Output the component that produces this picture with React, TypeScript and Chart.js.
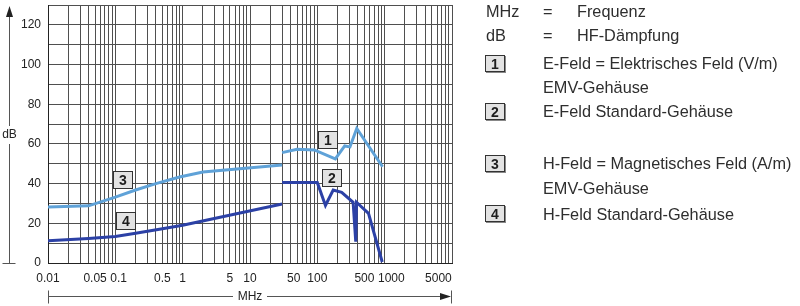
import React, { useEffect, useRef } from 'react';
import { Chart, registerables } from 'chart.js';

Chart.register(...registerables);

// ---- data ----
// Curve 1: E-Feld, EMV-Gehäuse
const c1Freq = [30, 50, 90, 185, 255, 305, 385, 930];
const c1Db = [55.6, 57.3, 57, 52.5, 59, 58.5, 67.8, 48.5];
// Curve 2: E-Feld, Standard-Gehäuse
const c2Freq = [30, 100, 132, 172, 230, 340, 372, 382, 575, 920];
const c2Db = [40.5, 40.5, 29, 36.8, 35.6, 30.6, 10.7, 30.6, 25, 0.5];
// Curve 3: H-Feld, EMV-Gehäuse
const c3Freq = [0.01, 0.04, 0.1, 0.2, 0.4, 0.9, 2, 30];
const c3Db = [28.2, 28.8, 33.2, 36.8, 40, 43.3, 45.8, 49.4];
// Curve 4: H-Feld, Standard-Gehäuse
const c4Freq = [0.01, 0.04, 0.1, 0.2, 0.5, 1, 30];
const c4Db = [11.2, 12.4, 13.3, 15, 17.3, 19, 29.7];

const curveNames = ['1', '2', '3', '4'];

const xTickValues = [0.01, 0.05, 0.1, 0.5, 1, 5, 10, 50, 100, 500, 1000, 5000];
const xTickLabels = ['0.01', '0.05', '0.1', '0.5', '1', '5', '10', '50', '100', '500', '1000', '5000'];
const yTickValues = [0, 20, 40, 60, 80, 100, 120];

const xMin = 0.01;
const xMax = 10000;
const yMin = 0;
const yMax = 130;

// ---- presentation ----
const LIGHT = '#5fa2d8';
const DARK = '#2c41a6';
const FONT = "'Liberation Sans', Arial, Helvetica, sans-serif";
// where the number badges sit, in data units (frequency, dB)
const badgeFreq = [143, 162, 0.126, 0.143];
const badgeDb = [62.3, 43.1, 42.1, 21.3];
// small horizontal nudges (in spaces) the original print uses to keep labels apart
const labelPadLeft: Record<string, number> = { '0.1': 2, '1000': 4, '5000': 4 };
const labelPadRight: Record<string, number> = { '50': 2 };

const pts = (f: number[], d: number[]) => f.map((x, i) => ({ x, y: d[i] }));

function drawBadge(ctx: CanvasRenderingContext2D, cx: number, cy: number, text: string) {
  const w = 19, h = 17;
  const x = Math.round(cx - w / 2) + 0.5;
  const y = Math.round(cy - h / 2) + 0.5;
  ctx.fillStyle = '#e3e3e3';
  ctx.fillRect(x, y, w, h);
  ctx.strokeStyle = '#333';
  ctx.lineWidth = 1;
  ctx.strokeRect(x, y, w, h);
  ctx.fillStyle = '#1e1e1e';
  ctx.font = `bold 14px ${FONT}`;
  ctx.textAlign = 'center';
  ctx.textBaseline = 'middle';
  ctx.fillText(text, x + w / 2, y + h / 2 + 1);
}

const decorPlugin = {
  id: 'decor',
  afterDatasetsDraw(chart: any) {
    const { ctx, chartArea: a, scales } = chart;
    const sx = scales.x, sy = scales.y;
    ctx.save();
    // number badges on the curves
    curveNames.forEach((n, i) => {
      drawBadge(ctx, sx.getPixelForValue(badgeFreq[i]), sy.getPixelForValue(badgeDb[i]), n);
    });

    ctx.strokeStyle = '#555';
    ctx.fillStyle = '#222';
    ctx.lineWidth = 1;

    // vertical dB arrow
    const ax = a.left - 38.5;
    const midY = (a.top + a.bottom) / 2 + 1;
    ctx.beginPath();
    ctx.moveTo(ax, a.top + 8);
    ctx.lineTo(ax, midY - 9);
    ctx.moveTo(ax, midY + 9);
    ctx.lineTo(ax, a.bottom);
    ctx.stroke();
    ctx.beginPath();
    ctx.moveTo(ax - 7, a.bottom + 0.5);
    ctx.lineTo(ax + 6, a.bottom + 0.5);
    ctx.stroke();
    ctx.beginPath();
    ctx.moveTo(ax, a.top + 1);
    ctx.lineTo(ax - 3.5, a.top + 12);
    ctx.lineTo(ax + 3.5, a.top + 12);
    ctx.closePath();
    ctx.fill();
    ctx.font = `12px ${FONT}`;
    ctx.textAlign = 'center';
    ctx.textBaseline = 'middle';
    ctx.fillText('dB', ax, midY);

    // horizontal MHz arrow
    const ay = a.bottom + 33.5;
    const midX = (a.left + a.right) / 2;
    ctx.beginPath();
    ctx.moveTo(a.left + 0.5, ay);
    ctx.lineTo(midX - 17, ay);
    ctx.moveTo(midX + 17, ay);
    ctx.lineTo(a.right - 8, ay);
    ctx.moveTo(a.left + 0.5, ay - 6);
    ctx.lineTo(a.left + 0.5, ay + 7);
    ctx.moveTo(a.right - 0.5, ay - 6);
    ctx.lineTo(a.right - 0.5, ay + 7);
    ctx.stroke();
    ctx.beginPath();
    ctx.moveTo(a.right - 1, ay);
    ctx.lineTo(a.right - 12, ay - 3.5);
    ctx.lineTo(a.right - 12, ay + 3.5);
    ctx.closePath();
    ctx.fill();
    ctx.fillText('MHz', midX, ay);
    ctx.restore();
  },
};

function ChartCanvas() {
  const ref = useRef<HTMLCanvasElement | null>(null);
  useEffect(() => {
    const canvas = ref.current;
    if (!canvas) return;
    const gridTicks: { value: number }[] = [];
    for (let e = -2; e <= 4; e++) {
      for (let m = 1; m <= 9; m++) {
        const v = +(m * Math.pow(10, e)).toPrecision(3);
        if (v <= xMax) gridTicks.push({ value: v });
      }
    }
    const chart = new Chart(canvas, {
      type: 'line',
      data: {
        datasets: [
          { label: curveNames[0], data: pts(c1Freq, c1Db), borderColor: LIGHT },
          { label: curveNames[1], data: pts(c2Freq, c2Db), borderColor: DARK },
          { label: curveNames[2], data: pts(c3Freq, c3Db), borderColor: LIGHT },
          { label: curveNames[3], data: pts(c4Freq, c4Db), borderColor: DARK },
        ],
      },
      options: {
        animation: false,
        responsive: false,
        events: [],
        layout: { padding: { left: 8, top: 5, right: 348, bottom: 0 } },
        elements: {
          point: { radius: 0 },
          line: { borderWidth: 3, tension: 0, fill: false },
        },
        plugins: { legend: { display: false }, tooltip: { enabled: false } },
        scales: {
          x: {
            type: 'logarithmic',
            min: xMin,
            max: xMax,
            afterBuildTicks: (s: any) => {
              s.ticks = gridTicks.map((t) => ({ value: t.value }));
            },
            afterFit: (s: any) => {
              s.height = 43;
              s.paddingLeft = 0;
              s.paddingRight = 0;
            },
            ticks: {
              autoSkip: false,
              maxRotation: 0,
              minRotation: 0,
              padding: 8,
              color: '#222',
              font: { size: 12, family: FONT },
              callback: (v: any) => {
                const idx = xTickValues.findIndex((t) => Math.abs(Math.log10(t) - Math.log10(+v)) < 1e-6);
                if (idx < 0) return '';
                const s = xTickLabels[idx];
                return ' '.repeat(labelPadLeft[s] || 0) + s + ' '.repeat(labelPadRight[s] || 0);
              },
            },
            grid: { color: '#4f4f4f', lineWidth: 1, drawTicks: false },
            border: { color: '#222', width: 1 },
          },
          y: {
            min: yMin,
            max: yMax,
            afterFit: (s: any) => {
              s.width = 40;
              s.paddingTop = 0;
              s.paddingBottom = 0;
            },
            ticks: {
              stepSize: 10,
              padding: 7,
              color: '#222',
              font: { size: 12, family: FONT },
              callback: (v: any) => (yTickValues.includes(+v) ? String(v) : ''),
            },
            grid: { color: '#4f4f4f', lineWidth: 1, drawTicks: false },
            border: { color: '#222', width: 1 },
          },
        },
      },
      plugins: [decorPlugin],
    } as any);
    return () => chart.destroy();
  }, []);
  return <canvas ref={ref} width={800} height={306} style={{ display: 'block', width: 800, height: 306 }} />;
}

const boxStyle: React.CSSProperties = {
  position: 'absolute',
  left: 485,
  width: 18,
  height: 15,
  background: '#e3e3e3',
  border: '1px solid #333',
  boxShadow: '1px 1px 0 #888',
  font: `bold 14px ${FONT}`,
  color: '#1e1e1e',
  textAlign: 'center',
  lineHeight: '16px',
};

const textStyle: React.CSSProperties = {
  position: 'absolute',
  font: `16.3px ${FONT}`,
  color: '#2e2e2e',
  lineHeight: '20px',
  whiteSpace: 'nowrap',
};

type Row = { cy: number; box?: string; cols: [number, string][] };
const legendRows: Row[] = [
  { cy: 11, cols: [[486, 'MHz'], [543, '='], [577, 'Frequenz']] },
  { cy: 35, cols: [[486, 'dB'], [543, '='], [577, 'HF-Dämpfung']] },
  { cy: 63, box: '1', cols: [[543, 'E-Feld = Elektrisches Feld (V/m)']] },
  { cy: 86.5, cols: [[543, 'EMV-Gehäuse']] },
  { cy: 111, box: '2', cols: [[543, 'E-Feld Standard-Gehäuse']] },
  { cy: 163, box: '3', cols: [[543, 'H-Feld = Magnetisches Feld (A/m)']] },
  { cy: 187.5, cols: [[543, 'EMV-Gehäuse']] },
  { cy: 213.5, box: '4', cols: [[543, 'H-Feld Standard-Gehäuse']] },
];

export default function App() {
  return (
    <div style={{ position: 'absolute', left: 0, top: 0, width: 800, height: 306, background: '#fff', overflow: 'hidden' }}>
      <ChartCanvas />
      {legendRows.map((r, i) => (
        <React.Fragment key={i}>
          {r.box && <div style={{ ...boxStyle, top: Math.round(r.cy - 8.5) }}>{r.box}</div>}
          {r.cols.map(([x, t], j) => (
            <div key={j} style={{ ...textStyle, left: x, top: r.cy - 10 }}>{t}</div>
          ))}
        </React.Fragment>
      ))}
    </div>
  );
}
